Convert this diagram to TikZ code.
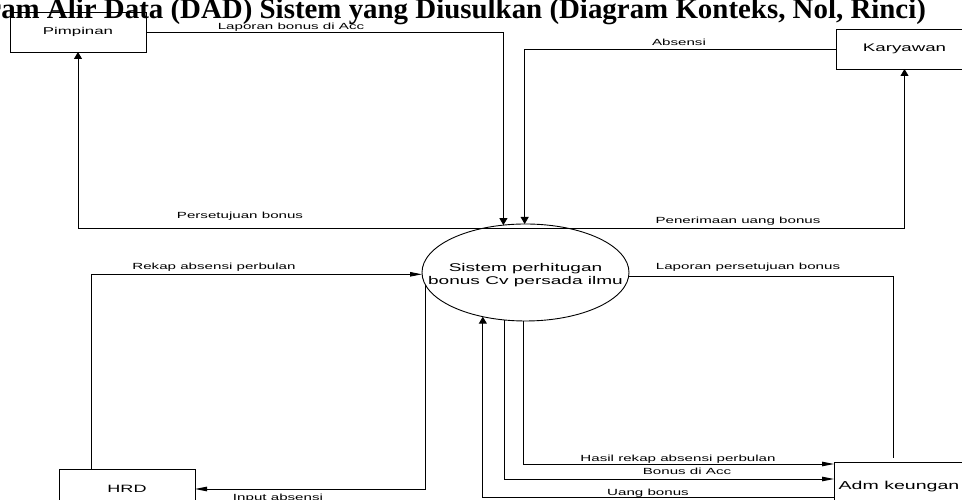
\documentclass[tikz,border=0pt]{standalone}
\usepackage{fontspec}
\setmainfont{Liberation Serif}
\newfontfamily\lblfont[FakeStretch=1.7]{Liberation Sans}
\usetikzlibrary{arrows.meta,shapes.geometric}
\newcommand\lsz[1]{\lblfont\fontsize{#1}{12.5}\selectfont}
\newcommand\ttlfnt{\bfseries\fontsize{28.6}{30}\selectfont}
\newsavebox\ttlmeasure
\sbox\ttlmeasure{\ttlfnt Alir Data (DAD) Sistem yang Diusulkan (Diagram Konteks, Nol, Rinci)}

\begin{document}
\begin{tikzpicture}[x=1pt,y=1pt,
  every node/.style={inner sep=0pt, outer sep=0pt},
  entity/.style={draw, line width=0.9pt, minimum width=136pt, minimum height=40pt},
  proc/.style={draw, ellipse, line width=0.9pt, minimum width=207pt, minimum height=97pt},
  flow/.style={line width=0.9pt},
  vflow/.style={flow, -{Triangle[length=7pt,width=8pt]}},
  hflow/.style={flow, -{Triangle[length=12pt,width=4.5pt]}},
  lbl/.style={font=\lsz{8.9}},
]
\useasboundingbox (0,0) rectangle (962,500);
\fill[white] (0,0) rectangle (962,500);
\clip (0,0) rectangle (962,500);

\node[anchor=base east] (title) at (926,481)
  {\scalebox{\fpeval{879/(\the\wd\ttlmeasure)}}[1]{\ttlfnt Diagram Alir Data (DAD) Sistem yang Diusulkan (Diagram Konteks, Nol, Rinci)}};

\node[entity] (pim) at (78,468) {\lsz{9.9}Pimpinan};
\node[entity, minimum width=137pt] (kar) at (904.5,451) {\lsz{11}Karyawan};
\node[entity] (hrd) at (127,11) {\lsz{10.6}HRD};
\node[entity, minimum width=130pt, minimum height=50pt] (adm) at (899,13) {\lsz{11.5}Adm keungan};
\node[proc] (sys) at (525.5,227.5) {};
\node[align=center, font=\lsz{11.2}] (systext) at (525.5,225) {Sistem perhitugan\\bonus Cv persada ilmu};

\coordinate (top) at ([yshift=-4pt]sys.north);

\draw[vflow] (pim.east) -| (sys.115.4);
\draw[vflow] (kar.west) -| (sys.91.8);
\draw[vflow] (top) -| (pim.south);
\draw[vflow] (top) -| (kar.south);
\draw[hflow] ([xshift=-36pt]hrd.north) |- (sys.181.4);
\draw[hflow] (sys.187.6) |- (hrd.east);
\draw[flow] (sys.-2.5) -| ([xshift=-6pt,yshift=4pt]adm.north);
\draw[hflow] (sys.268.2) |- ([yshift=23pt]adm.west);
\draw[hflow] (sys.246.7) |- ([yshift=8pt]adm.west);
\draw[vflow] ([yshift=-10pt]adm.west) -| (sys.226.1);

\node[lbl] (t1) at (291,472.5) {Laporan bonus di Acc};
\node[lbl] (t2) at (679,457.5) {Absensi};
\node[lbl] (t3) at (240,283.5) {Persetujuan bonus};
\node[lbl] (t4) at (738,278.5) {Penerimaan uang bonus};
\node[lbl] (t5) at (214,232.5) {Rekap absensi perbulan};
\node[lbl] (t6) at (278,2) {Input absensi};
\node[lbl] (t7) at (748,232.5) {Laporan persetujuan bonus};
\node[lbl] (t8) at (678,40.5) {Hasil rekap absensi perbulan};
\node[lbl] (t9) at (687,28.5) {Bonus di Acc};
\node[lbl] (t10) at (648,6.5) {Uang bonus};
\end{tikzpicture}
\end{document}
